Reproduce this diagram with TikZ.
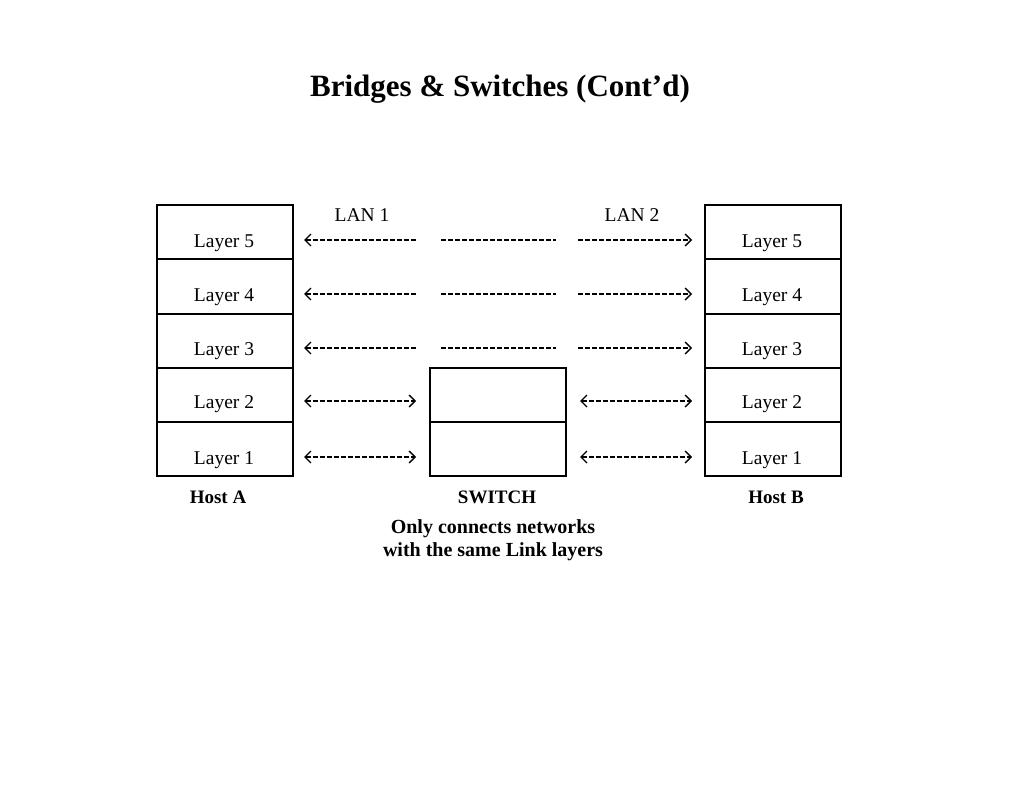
\documentclass[tikz,border=0pt]{standalone}
\usepackage{fontspec}
\setmainfont{Liberation Serif}
\usetikzlibrary{arrows.meta}
\begin{document}
\begin{tikzpicture}[x=1pt,y=-1pt,
  cellbox/.style={draw,line width=1.6pt,minimum width=136pt,minimum height=54pt,inner sep=0pt,anchor=north west},
  lyr/.style={font=\fontsize{19.5}{21}\selectfont,inner sep=0pt},
  lbl/.style={font=\fontsize{19}{21}\selectfont\bfseries,inner sep=0pt,align=center},
  dl/.style={line width=1.1pt,dash pattern=on 5pt off 2pt},
  ar/.style={-{Straight Barb[length=6pt,width=12pt,line width=1.4pt]}},
  al/.style={{Straight Barb[length=6pt,width=12pt,line width=1.4pt]}-},
  alr/.style={{Straight Barb[length=6pt,width=12pt,line width=1.4pt]}-{Straight Barb[length=6pt,width=12pt,line width=1.4pt]}}]
\useasboundingbox (0,0) rectangle (1024,791);
\node[font=\fontsize{31}{35}\selectfont\bfseries,inner sep=0pt] (title) at (500,89) {Bridges \& Switches (Cont’d)};
% boxes
\foreach \i/\y/\h in {5/204/54pt,4/258/55pt,3/313/54pt,2/367/54pt,1/421/54pt}{
  \node[cellbox,minimum height=\h] (a\i) at (156,\y) {};
  \node[cellbox,minimum height=\h] (b\i) at (704,\y) {};
}
\node[cellbox] (s2) at (429,367) {};
\node[cellbox] (s1) at (429,421) {};
% Layer labels
\foreach \i/\y in {5/243,4/297,3/351,2/404,1/460}{
  \node[lyr] (la\i) at (224,\y) {Layer \i};
  \node[lyr] (lb\i) at (772,\y) {Layer \i};
}
\node[lyr] (lan1) at (362,215) {LAN 1};
\node[lyr] (lan2) at (632,215) {LAN 2};
% connectors layers 5-3
\foreach \i/\y in {5/240,4/294,3/348}{
  \coordinate (p\i a) at (304,\y);
  \coordinate (p\i b) at (417,\y);
  \coordinate (p\i c) at (441,\y);
  \coordinate (p\i d) at (556,\y);
  \coordinate (p\i e) at (578,\y);
  \coordinate (p\i f) at (692,\y);
  \draw[dl,al] (p\i a) -- (p\i b);
  \draw[dl] (p\i c) -- (p\i d);
  \draw[dl,ar] (p\i e) -- (p\i f);
}
\foreach \i/\y in {2/401,1/457}{
  \coordinate (q\i a) at (304,\y);
  \coordinate (q\i b) at (416,\y);
  \coordinate (q\i c) at (580,\y);
  \coordinate (q\i d) at (692,\y);
  \draw[dl,alr] (q\i a) -- (q\i b);
  \draw[dl,alr] (q\i c) -- (q\i d);
}
\node[lbl] (hosta) at (218,497) {Host A};
\node[lbl] (sw) at (497,497) {SWITCH};
\node[lbl] (hostb) at (776,497) {Host B};
\node[lbl,font=\fontsize{20}{22.5}\selectfont\bfseries] (note) at (493,540) {Only connects networks\\with the same Link layers};
\end{tikzpicture}
\end{document}
